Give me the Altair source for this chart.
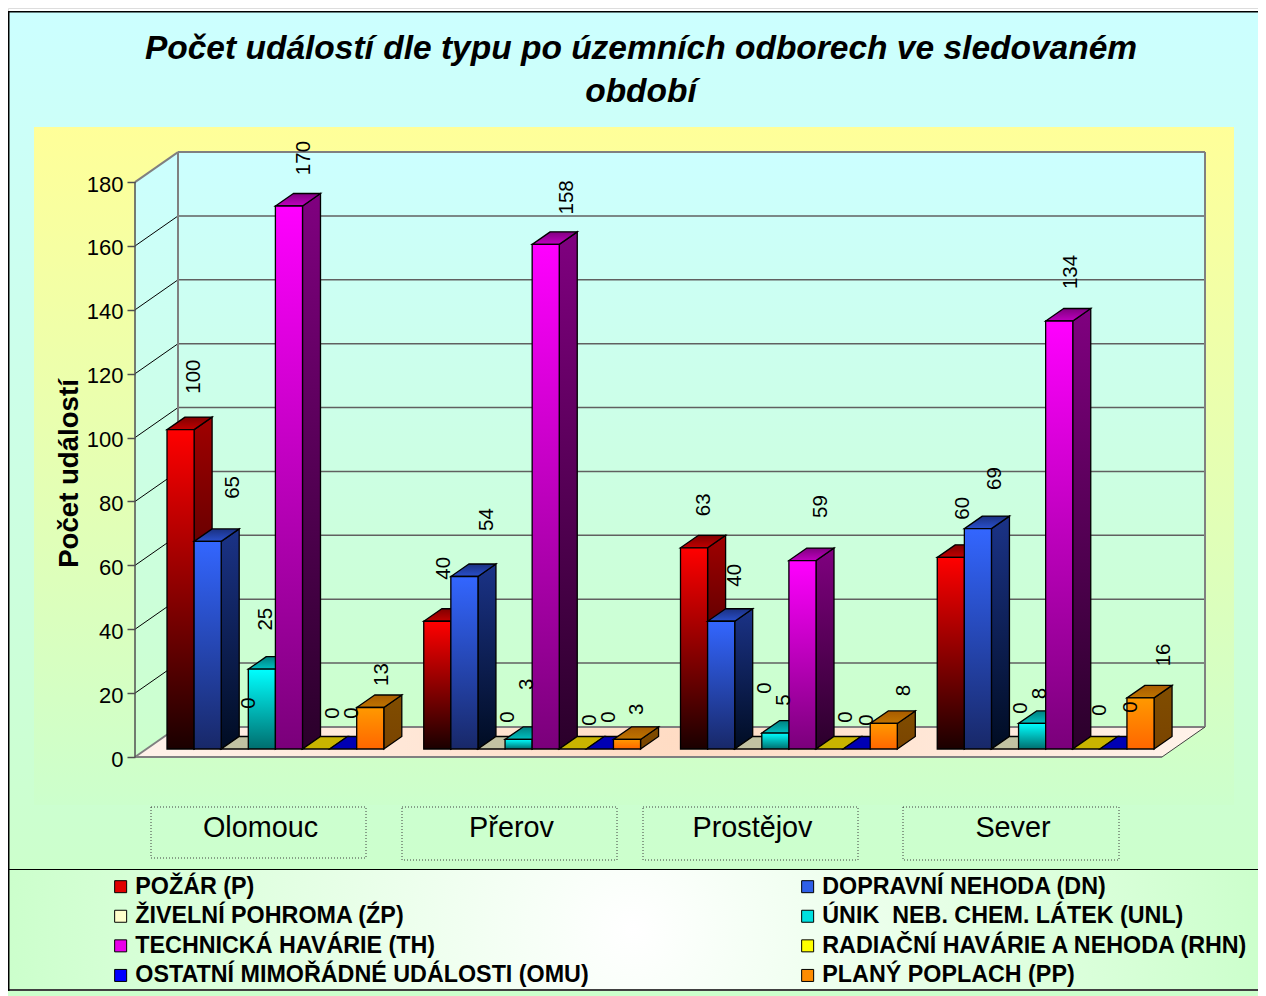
import altair as alt
import pandas as pd

# ---------- data ----------
REGIONS = ["Olomouc", "Přerov", "Prostějov", "Sever"]
SERIES = ["POŽÁR (P)", "DOPRAVNÍ NEHODA (DN)", "ŽIVELNÍ POHROMA (ŹP)", "ÚNIK\u00a0 NEB. CHEM. LÁTEK (UNL)",
          "TECHNICKÁ HAVÁRIE (TH)", "RADIAČNÍ HAVÁRIE A NEHODA (RHN)", "OSTATNÍ MIMOŘÁDNÉ UDÁLOSTI (OMU)", "PLANÝ POPLACH (PP)"]
OLOMOUC = [100, 65, 0, 25, 170, 0, 0, 13]
PREROV = [40, 54, 0, 3, 158, 0, 0, 3]
PROSTEJOV = [63, 40, 0, 5, 59, 0, 0, 8]
SEVER = [60, 69, 0, 8, 134, 0, 0, 16]
VALUES = [OLOMOUC, PREROV, PROSTEJOV, SEVER]
TITLE = ["Počet událostí dle typu po územních odborech ve sledovaném", "období"]
Y_TITLE = "Počet událostí"
TICKS = list(range(0, 200, 20))

# ---------- styling ----------
LEGEND_COLORS = ["#E00000", "#2F5FE8", "#FFFFCC", "#00E0E0", "#E800E8", "#FFFF00", "#0000FF", "#FF8C00"]
FRONT = [("#FF0000", "#1A0000"), ("#3366FF", "#182868"), ("#FFFFCC", "#FFFFCC"), ("#00FFFF", "#006E6E"),
         ("#FF00FF", "#7A007A"), ("#FFFF00", "#FFFF00"), ("#0000FF", "#0000FF"), ("#FF9900", "#FF6600")]
SIDE = [("#A00000", "#120000"), ("#1B3388", "#000C22"), ("#808066", "#808066"), ("#008080", "#003737"),
        ("#800080", "#2A002A"), ("#808000", "#808000"), ("#000080", "#000080"), ("#804D00", "#7A4400")]
TOP = [("#800000", "#C00000"), ("#1A3080", "#2A50CC"), ("#C2C2A2", "#C2C2A2"), ("#008080", "#00C0C0"),
       ("#800080", "#C000C0"), ("#C8B400", "#C8B400"), ("#0000B4", "#0000B4"), ("#A85C00", "#C07400")]
# label offsets from the bar's top-left corner, per region and series
LABEL_DX = [[26, 38, 27, 17, 28, 30, 22, 25], [20, 36, 30, 21, 34, 30, 22, 23],
            [23, 27, 30, 22, 32, 29, 23, 33], [25, 30, 29, 21, 25, 27, 31, 37]]
LABEL_DY = [[-53, -54, -46, -50, -48, -36, -36, -33], [-53, -57, -32, -55, -47, -29, -32, -30],
            [-43, -46, -61, -33, -54, -32, -29, -33], [-49, -50, -41, -30, -49, -39, -42, -43]]

FONT = "Liberation Sans"
W, H = 1250, 988
PX_PER_UNIT = 3.194
BASE_Y, LEFT_X = 757, 135          # front-left corner of the floor
WALL_DX, WALL_DY = 43, 30          # depth of the plot box
FLOOR_W = 1027
BAR_W, GROUP_STEP, FIRST_BAR = 27.1, 256.75, 167
BAR_BASE_Y, BAR_DX, BAR_DY = 749, 18, 12.5


def val(py):        # page pixel row to value units of the y scale
    return (BASE_Y - py) / PX_PER_UNIT


xs = alt.Scale(domain=[8, 8 + W], range=[0, W], nice=False, zero=False)
ys = alt.Scale(domain=[val(8 + H), val(8)], range=[H, 0], nice=False, zero=False)
y_axis = alt.Axis(
    values=TICKS, offset=-(LEFT_X - 8), domain=False, grid=False, tickColor="#505050", tickSize=8,
    tickWidth=1.5, labelFont=FONT, labelFontSize=22, labelColor="#000000", labelPadding=4, labelOffset=2,
    format="d", title=Y_TITLE, titleFont=FONT, titleFontSize=27.6, titleFontWeight="bold",
    titleColor="#000000", titleX=-66, titleY=465, titleAngle=270, titleBaseline="middle",
    titleAlign="center", labelFlush=False, zindex=1)
X = lambda f="x": alt.X(f"{f}:Q", scale=xs, axis=None)
Y = lambda f="y": alt.Y(f"{f}:Q", scale=ys, axis=y_axis)
ONE = pd.DataFrame({"a": [0]})


def grad(stops, horizontal=False):
    n = len(stops) - 1
    args = dict(x1=0, x2=1, y1=0, y2=0) if horizontal else dict(x1=0, x2=0, y1=0, y2=1)
    return alt.Gradient(gradient="linear",
                        stops=[alt.GradientStop(offset=i / n, color=c) for i, c in enumerate(stops)], **args)


def radial(inner, outer):
    return alt.RadialGradient(gradient="radial", x1=0.5, y1=0.5, r1=0, x2=0.5, y2=0.5, r2=0.5,
                              stops=[alt.GradientStop(offset=0, color=inner), alt.GradientStop(offset=1, color=outer)])


def box(x0, y0, x1, y1, fill, **kw):
    return alt.Chart(ONE).mark_rect(fill=fill, **kw).encode(
        x=alt.value(x0 - 8), x2=alt.value(x1 - 8), y=alt.value(y0 - 8), y2=alt.value(y1 - 8))


def lines(rows, color, width):
    return alt.Chart(pd.DataFrame(rows, columns=["x", "x2", "y", "y2"])).mark_rule(
        color=color, strokeWidth=width).encode(x=X(), x2="x2:Q", y=Y(), y2="y2:Q")


layers = []
# ---------- backgrounds ----------
layers.append(box(8, 12, 8 + W, 869, grad(["#CCFFFF", "#CCFFCC"])))
layers.append(box(34, 127, 1234, 805, grad(["#FFFF99", "#CCFFCC"])))
layers.append(box(8, 869, 8 + W, 990, radial("#FFFFFF", "#CCFFCC")))
layers.append(box(8, 990, 8 + W, 8 + H, "#CCFFCC"))

# ---------- walls and floor ----------
wall_bot, wall_top = val(BASE_Y), val(BASE_Y - 180 * PX_PER_UNIT)
back = WALL_DY / PX_PER_UNIT
wall_fill = grad(["#CCFFFF", "#CCFFCC"])
side_wall = pd.DataFrame({"x": [LEFT_X, LEFT_X + WALL_DX], "y": [wall_top, wall_top + back], "y2": [wall_bot, wall_bot + back]})
layers.append(alt.Chart(side_wall).mark_area(fill=wall_fill).encode(x=X(), y=Y(), y2="y2:Q"))
back_wall = pd.DataFrame({"x": [LEFT_X + WALL_DX, LEFT_X + WALL_DX + FLOOR_W], "y": [wall_top + back] * 2, "y2": [wall_bot + back] * 2})
layers.append(alt.Chart(back_wall).mark_area(fill=wall_fill).encode(x=X(), y=Y(), y2="y2:Q"))
floor = pd.DataFrame({"y": [wall_bot, wall_bot + back], "x": [LEFT_X, LEFT_X + WALL_DX], "x2": [LEFT_X + FLOOR_W, LEFT_X + WALL_DX + FLOOR_W]})
layers.append(alt.Chart(floor).mark_area(orient="horizontal", fill=radial("#FFDCC4", "#FFF2EA")).encode(y=Y(), x=X(), x2="x2:Q"))

# grid lines: back wall and side wall
layers.append(lines([[LEFT_X + WALL_DX, LEFT_X + WALL_DX + FLOOR_W, t + back, t + back] for t in TICKS[1:-1]], "#606060", 1.5))
layers.append(lines([[LEFT_X, LEFT_X + WALL_DX, t, t + back] for t in TICKS[1:-1]], "#000000", 1))
# box edges
layers.append(lines([
    [LEFT_X, LEFT_X + WALL_DX, wall_top, wall_top + back],
    [LEFT_X, LEFT_X + WALL_DX, wall_bot, wall_bot + back],
    [LEFT_X + WALL_DX, LEFT_X + WALL_DX + FLOOR_W, wall_top + back, wall_top + back],
    [LEFT_X + WALL_DX, LEFT_X + WALL_DX, wall_top + back, wall_bot + back],
    [LEFT_X + WALL_DX + FLOOR_W, LEFT_X + WALL_DX + FLOOR_W, wall_top + back, wall_bot + back],
    [LEFT_X + WALL_DX, LEFT_X + WALL_DX + FLOOR_W, wall_bot + back, wall_bot + back],
    [LEFT_X, LEFT_X + FLOOR_W, wall_bot, wall_bot],
], "#808080", 2))
layers.append(lines([[LEFT_X + FLOOR_W, LEFT_X + WALL_DX + FLOOR_W, wall_bot, wall_bot + back]], "#404040", 1))
layers.append(lines([[LEFT_X, LEFT_X, wall_bot, wall_top]], "#505050", 1.5))

# ---------- bars ----------
base_v = val(BAR_BASE_Y)
du = BAR_DY / PX_PER_UNIT
rows = []
for g, region in enumerate(REGIONS):
    for j, s in enumerate(SERIES):
        x0 = FIRST_BAR + GROUP_STEP * g + BAR_W * j
        rows.append(dict(region=region, series=s, j=j, value=VALUES[g][j], x0=x0, x1=x0 + BAR_W,
                         top=base_v + VALUES[g][j], base=base_v,
                         lx=x0 + LABEL_DX[g][j], ly=base_v + VALUES[g][j] - LABEL_DY[g][j] / PX_PER_UNIT))
bars = pd.DataFrame(rows)

legend = alt.Legend(orient="none", legendX=101, legendY=867, columns=2, title=None, symbolType="square",
                    symbolSize=144, symbolStrokeColor="#000000", symbolStrokeWidth=1, labelFont=FONT,
                    labelFontSize=23.3, labelFontWeight="bold", labelColor="#000000", labelOffset=3,
                    columnPadding=207, rowPadding=5.6, labelLimit=700, zindex=1)
# the legend fills column by column, the reference reads row by row
LEGEND_ORDER = SERIES[::2] + SERIES[1::2]
LEGEND_RANGE = LEGEND_COLORS[::2] + LEGEND_COLORS[1::2]
layers.append(alt.Chart(bars).mark_rect().encode(
    x=X("x0"), x2="x1:Q", y=Y("top"), y2="base:Q",
    color=alt.Color("series:N", scale=alt.Scale(domain=LEGEND_ORDER, range=LEGEND_RANGE), legend=legend)))

EDGE = dict(stroke="#000000", strokeWidth=1.3)
for j, s in enumerate(SERIES):
    d = bars[bars.j == j]
    # side face
    side = []
    for r in d.itertuples():
        if r.value > 0:
            side.append(dict(region=r.region, x=r.x1, y=r.top, y2=r.base))
            side.append(dict(region=r.region, x=r.x1 + BAR_DX, y=r.top + du, y2=r.base + du))
    if side:
        layers.append(alt.Chart(pd.DataFrame(side)).mark_area(fill=grad(SIDE[j]), **EDGE).encode(
            x=X(), y=Y(), y2="y2:Q", detail="region:N"))
    # top face
    top = []
    for r in d.itertuples():
        top.append(dict(region=r.region, y=r.top + du, x=r.x0 + BAR_DX, x2=r.x1 + BAR_DX))
        top.append(dict(region=r.region, y=r.top, x=r.x0, x2=r.x1))
    layers.append(alt.Chart(pd.DataFrame(top)).mark_area(orient="horizontal", fill=grad(TOP[j]), **EDGE).encode(
        y=Y(), x=X(), x2="x2:Q", detail="region:N"))
    # front face
    front = d[d.value > 0]
    if len(front):
        layers.append(alt.Chart(front).mark_rect(fill=grad(FRONT[j]), **EDGE).encode(
            x=X("x0"), x2="x1:Q", y=Y("top"), y2="base:Q"))

# value labels
layers.append(alt.Chart(bars).mark_text(angle=270, font=FONT, fontSize=20.5, color="#000000",
                                        align="center", baseline="middle", dy=0.5).encode(
    x=X("lx"), y=Y("ly"), text="value:Q"))

# ---------- region boxes ----------
REGION_BOXES = [(151, 807, 366, 858), (402, 807, 617, 860), (643, 807, 858, 860), (903, 807, 1119, 860)]
for (x0, y0, x1, y1), name in zip(REGION_BOXES, REGIONS):
    layers.append(box(x0, y0, x1, y1, "transparent", stroke="#404040", strokeWidth=1, strokeDash=[1, 2]))
    layers.append(alt.Chart(ONE).mark_text(font=FONT, fontSize=28.8, color="#000000", text=name,
                                           align="center", baseline="middle").encode(
        x=alt.value((x0 + x1) / 2 - 8 + 2), y=alt.value(828 - 8)))

# ---------- frame lines ----------
layers.append(box(8, 11, 8 + W, 12.5, "#000000"))
layers.append(box(8, 869, 8 + W, 870, "#000000"))
layers.append(box(8, 989, 8 + W, 991, "#404040"))
layers.append(box(8, 11, 9.5, 991, "#000000"))

chart = alt.layer(*layers).properties(
    width=W, height=H, padding=0,
    autosize=alt.AutoSizeParams(type="none"),
    title=alt.TitleParams(text=TITLE, font=FONT, fontSize=33.5, fontWeight="bold", fontStyle="italic",
                          color="#000000", anchor="start", frame="group", baseline="top", align="center",
                          lineHeight=43, dx=633, dy=101, offset=0),
).configure_view(stroke=None).configure(background="white")

chart.save("out.html", embed_options={"renderer": "svg", "actions": False})
